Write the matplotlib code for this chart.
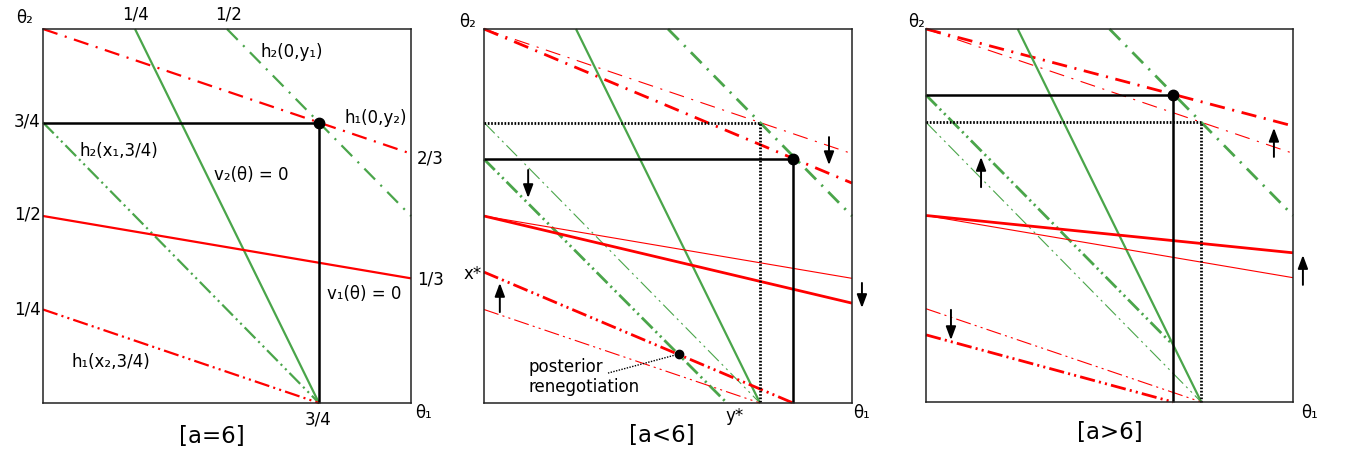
import matplotlib
matplotlib.use("Agg")
import matplotlib.pyplot as plt

plt.rcParams['font.family'] = ['DejaVu Sans']
plt.rcParams['lines.scale_dashes'] = False

RED = '#ff0000'
GREEN = '#4aa54a'
DD = (0, (11, 5.5, 1.5, 5.5))            # dash-dot
DDD = (0, (11, 3, 1.5, 3, 1.5, 3))       # dash-dot-dot
DOT = (0, (1.2, 1.2))

# ---- panel 1: [a=6] ----  (x0, y0, x1, y1)
p1_h1_0y2 = [0, 1, 1, 2/3]
p1_h2_0y1 = [0.5, 1, 1, 0.5]
p1_v2 = [0.25, 1, 0.75, 0]
p1_h2_x1 = [0, 0.75, 0.75, 0]
p1_v1 = [0, 0.5, 1, 1/3]
p1_h1_x2 = [0, 0.25, 0.75, 0]
p1_eq = (0.75, 0.75)

# ---- panel 2: [a<6] ----
p2_h1_0y2_old = [0, 1, 1, 2/3]
p2_h1_0y2 = [0, 1, 1, 0.588]
p2_h2_0y1 = [0.5, 1, 1, 0.5]
p2_v2 = [0.25, 1, 0.75, 0]
p2_h2_x1_old = [0, 0.75, 0.75, 0]
p2_h2_x1 = [0, 0.652, 0.66, 0]
p2_v1_old = [0, 0.5, 1, 1/3]
p2_v1 = [0, 0.5, 1, 0.267]
p2_h1_x2_old = [0, 0.25, 0.75, 0]
p2_h1_x2 = [0, 0.35, 0.84, 0]
p2_old_eq = (0.75, 0.75)
p2_eq = (0.84, 0.652)
p2_reneg = (0.53, 0.131)
p2_arrows = [(0.9375, 0.711, 0.636), (0.12, 0.623, 0.548),
             (0.043, 0.243, 0.321), (1.027, 0.321, 0.254)]

# ---- panel 3: [a>6] ----
p3_h1_0y2_old = [0, 1, 1, 2/3]
p3_h1_0y2 = [0, 1, 1, 0.74]
p3_h2_0y1 = [0.5, 1, 1, 0.5]
p3_v2 = [0.25, 1, 0.75, 0]
p3_h2_x1_old = [0, 0.75, 0.75, 0]
p3_h2_x1 = [0, 0.823, 0.673, 0.153]
p3_v1_old = [0, 0.5, 1, 1/3]
p3_v1 = [0, 0.5, 1, 0.40]
p3_h1_x2_old = [0, 0.25, 0.75, 0]
p3_h1_x2 = [0, 0.18, 0.673, 0]
p3_old_eq = (0.75, 0.75)
p3_eq = (0.673, 0.823)
p3_arrows = [(0.15, 0.576, 0.657), (0.948, 0.657, 0.735),
             (1.027, 0.314, 0.394), (0.068, 0.247, 0.166)]


def seg(ax, s, color, ls='-', lw=1.6):
    ax.plot([s[0], s[2]], [s[1], s[3]], color=color, linestyle=ls, lw=lw,
            solid_capstyle='butt', dash_capstyle='butt', clip_on=False)


def box(ax):
    ax.set_xlim(0, 1)
    ax.set_ylim(0, 1)
    ax.set_xticks([])
    ax.set_yticks([])
    for sp in ax.spines.values():
        sp.set_linewidth(1.1)
        sp.set_color('#222222')


def eq_lines(ax, pt, ls='-', lw=1.8):
    ax.plot([0, pt[0], pt[0]], [pt[1], pt[1], 0], color='black', linestyle=ls,
            lw=lw, solid_capstyle='butt', clip_on=False)


def arrow(ax, a):
    x, y0, y1 = a
    ax.annotate('', xy=(x, y1), xytext=(x, y0), annotation_clip=False,
                arrowprops=dict(arrowstyle='-|>,head_length=0.8,head_width=0.3',
                                color='black', lw=1.4, shrinkA=0, shrinkB=0))


W, H = 1345, 454
fig = plt.figure(figsize=(W / 100, H / 100), dpi=100)
ax1 = fig.add_axes([43 / W, (H - 403) / H, 368 / W, 374 / H])
ax2 = fig.add_axes([484 / W, (H - 403) / H, 368 / W, 374 / H])
ax3 = fig.add_axes([926 / W, (H - 402) / H, 367 / W, 373 / H])
for ax in (ax1, ax2, ax3):
    box(ax)

fs = 12

# panel 1
seg(ax1, p1_h1_0y2, RED, DD)
seg(ax1, p1_h2_0y1, GREEN, DD)
seg(ax1, p1_v2, GREEN, '-')
seg(ax1, p1_h2_x1, GREEN, DDD)
seg(ax1, p1_v1, RED, '-')
seg(ax1, p1_h1_x2, RED, DDD)
eq_lines(ax1, p1_eq)
ax1.plot(*p1_eq, 'o', color='black', ms=7.5, clip_on=False)

ax1.text(-0.05, 1.03, 'θ₂', fontsize=fs, ha='center', va='center')
ax1.text(0.25, 1.04, '1/4', fontsize=fs, ha='center', va='center')
ax1.text(0.503, 1.04, '1/2', fontsize=fs, ha='center', va='center')
ax1.text(-0.006, 0.754, '3/4', fontsize=fs, ha='right', va='center')
ax1.text(-0.006, 0.503, '1/2', fontsize=fs, ha='right', va='center')
ax1.text(-0.006, 0.249, '1/4', fontsize=fs, ha='right', va='center')
ax1.text(1.016, 0.655, '2/3', fontsize=fs, ha='left', va='center')
ax1.text(1.016, 0.329, '1/3', fontsize=fs, ha='left', va='center')
ax1.text(0.747, -0.045, '3/4', fontsize=fs, ha='center', va='center')
ax1.text(1.035, -0.027, 'θ₁', fontsize=fs, ha='center', va='center')
ax1.text(0.46, -0.09, '[a=6]', fontsize=16.5, ha='center', va='center')
ax1.text(0.677, 0.938, 'h₂(0,y₁)', fontsize=fs, ha='center', va='center')
ax1.text(0.905, 0.762, 'h₁(0,y₂)', fontsize=fs, ha='center', va='center')
ax1.text(0.207, 0.674, 'h₂(x₁,3/4)', fontsize=fs, ha='center', va='center')
ax1.text(0.565, 0.61, 'v₂(θ) = 0', fontsize=fs, ha='center', va='center')
ax1.text(0.872, 0.291, 'v₁(θ) = 0', fontsize=fs, ha='center', va='center')
ax1.text(0.185, 0.11, 'h₁(x₂,3/4)', fontsize=fs, ha='center', va='center')

# panel 2
thin, thick = 0.8, 2.0
seg(ax2, p2_h1_0y2_old, RED, DD, thin)
seg(ax2, p2_h1_0y2, RED, DD, thick)
seg(ax2, p2_h2_0y1, GREEN, DD, thick)
seg(ax2, p2_v2, GREEN, '-', 1.6)
seg(ax2, p2_h2_x1_old, GREEN, DDD, thin)
seg(ax2, p2_h2_x1, GREEN, DDD, thick)
seg(ax2, p2_v1_old, RED, '-', thin)
seg(ax2, p2_v1, RED, '-', thick)
seg(ax2, p2_h1_x2_old, RED, DDD, thin)
seg(ax2, p2_h1_x2, RED, DDD, thick)
eq_lines(ax2, p2_old_eq, DOT, 2.0)
eq_lines(ax2, p2_eq)
ax2.plot(*p2_eq, 'o', color='black', ms=7.5, clip_on=False)
ax2.plot(*p2_reneg, 'o', color='black', ms=6, clip_on=False)
ax2.plot([p2_reneg[0], 0.337], [p2_reneg[1], 0.08], color='black',
         linestyle=(0, (1, 1)), lw=1.0)
for a in p2_arrows:
    arrow(ax2, a)
ax2.text(-0.046, 1.02, 'θ₂', fontsize=fs, ha='center', va='center')
ax2.text(-0.005, 0.345, 'x*', fontsize=fs, ha='right', va='center')
ax2.text(0.68, -0.035, 'y*', fontsize=fs, ha='center', va='center')
ax2.text(1.027, -0.027, 'θ₁', fontsize=fs, ha='center', va='center')
ax2.text(0.484, -0.086, '[a<6]', fontsize=16.5, ha='center', va='center')
ax2.text(0.12, 0.096, 'posterior', fontsize=fs, ha='left', va='center')
ax2.text(0.12, 0.043, 'renegotiation', fontsize=fs, ha='left', va='center')

# panel 3
seg(ax3, p3_h1_0y2_old, RED, DD, thin)
seg(ax3, p3_h1_0y2, RED, DD, thick)
seg(ax3, p3_h2_0y1, GREEN, DD, thick)
seg(ax3, p3_v2, GREEN, '-', 1.6)
seg(ax3, p3_h2_x1_old, GREEN, DDD, thin)
seg(ax3, p3_h2_x1, GREEN, DDD, thick)
seg(ax3, p3_v1_old, RED, '-', thin)
seg(ax3, p3_v1, RED, '-', thick)
seg(ax3, p3_h1_x2_old, RED, DDD, thin)
seg(ax3, p3_h1_x2, RED, DDD, thick)
eq_lines(ax3, p3_old_eq, DOT, 2.0)
eq_lines(ax3, p3_eq)
ax3.plot(*p3_eq, 'o', color='black', ms=7.5, clip_on=False)
for a in p3_arrows:
    arrow(ax3, a)
ax3.text(-0.025, 1.02, 'θ₂', fontsize=fs, ha='center', va='center')
ax3.text(1.044, -0.03, 'θ₁', fontsize=fs, ha='center', va='center')
ax3.text(0.5, -0.083, '[a>6]', fontsize=16.5, ha='center', va='center')

fig.savefig('out.png', dpi=100)
